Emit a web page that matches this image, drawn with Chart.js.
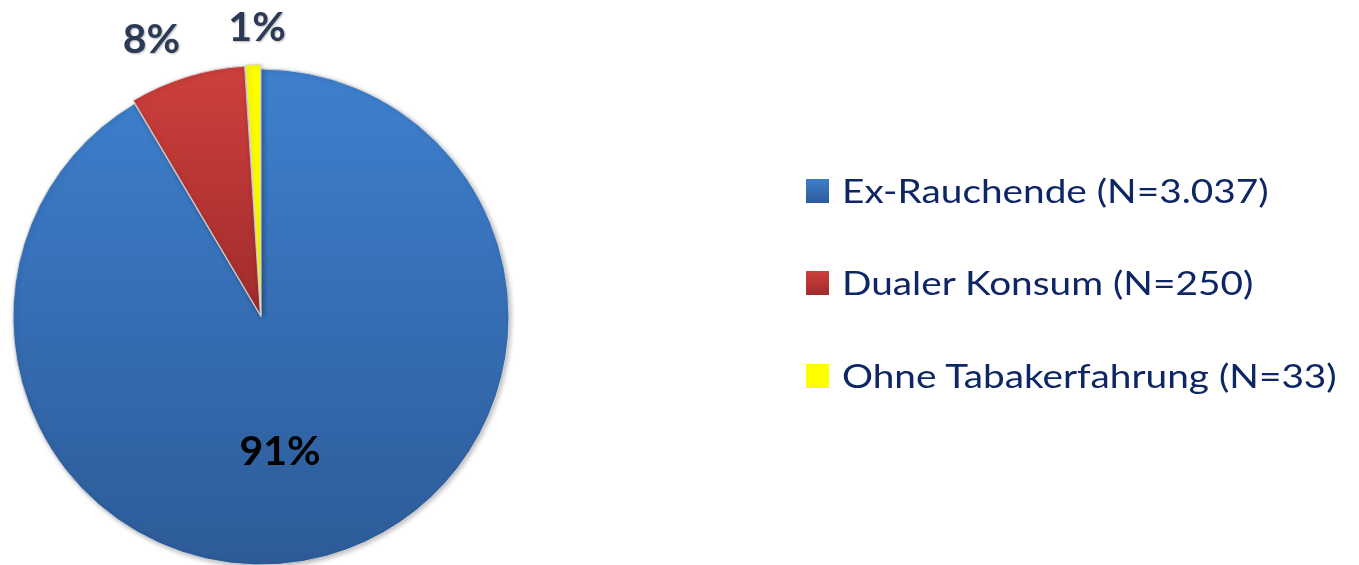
<!DOCTYPE html>
<html>
<head>
<meta charset="utf-8">
<script src="https://cdn.jsdelivr.net/npm/chart.js@4/dist/chart.umd.min.js"></script>
<style>
  html, body { margin: 0; padding: 0; background: #ffffff; }
  #wrap { position: relative; width: 1359px; height: 565px; overflow: hidden; }
  #c { position: absolute; left: 0; top: 0; }
  #legend { position: absolute; left: 806px; top: 0; font-family: Lato, "Open Sans", sans-serif; color: #0E2664; }
  .item { position: absolute; left: 0; white-space: nowrap; font-size: 33px; line-height: 33px; }
  .box { position: absolute; left: 0; top: 0; width: 23px; height: 24px; }
  .txt { position: absolute; left: 36px; top: -5px; transform: scaleX(1.175); transform-origin: 0 0; }
</style>
</head>
<body>
<div id="wrap">
  <canvas id="c" width="1359" height="565"></canvas>
  <div id="legend"></div>
</div>
<script>
// ---- data ----
const categories = ["Ex-Rauchende (N=3.037)", "Dualer Konsum (N=250)", "Ohne Tabakerfahrung (N=33)"];
const counts = [3037, 250, 33];
const sliceColorsTop = ["#3E80CE", "#CF403C", "#FFFF00"];
const sliceColorsBottom = ["#2D5B98", "#A02C2C", "#FFFF00"];

const total = counts.reduce((a, b) => a + b, 0);

function grad(ctx, i, y0, y1) {
  const g = ctx.createLinearGradient(0, y0, 0, y1);
  g.addColorStop(0, sliceColorsTop[i]);
  g.addColorStop(1, sliceColorsBottom[i]);
  return g;
}

const labelCfg = {
  dist: [0.55, 1.0, 1.0],     // fraction of radius
  pad: [0, 30, 30],
  nudge: [[-17, 16], [-25, 10], [5, 11]],
  color: ["#000000", "#2B3A57", "#2B3A57"],
  shadow: [false, true, true]
};

const shadowPlugin = {
  id: 'sliceShadow',
  beforeDatasetDraw(chart) {
    const c = chart.ctx;
    c.save();
    c.shadowColor = 'rgba(0,0,0,0.28)';
    c.shadowBlur = 5;
    c.shadowOffsetX = 1.5;
    c.shadowOffsetY = 1.5;
  },
  afterDatasetDraw(chart) {
    chart.ctx.restore();
  }
};

const labelPlugin = {
  id: 'pctLabels',
  afterDatasetsDraw(chart) {
    const c = chart.ctx;
    const meta = chart.getDatasetMeta(0);
    meta.data.forEach((arc, i) => {
      const p = arc.getProps(['x', 'y', 'startAngle', 'endAngle', 'outerRadius'], true);
      const off = chart.data.datasets[0].offset[i] || 0;
      const mid = (p.startAngle + p.endAngle) / 2;
      const dx = Math.cos(mid), dy = Math.sin(mid);
      const cx = p.x + dx * off, cy = p.y + dy * off;
      const d = p.outerRadius * labelCfg.dist[i] + labelCfg.pad[i];
      const x = cx + dx * d + labelCfg.nudge[i][0];
      const y = cy + dy * d + labelCfg.nudge[i][1];
      const pct = Math.round(counts[i] / total * 100) + '%';
      c.save();
      c.font = 'bold 41px Lato, "Open Sans", sans-serif';
      c.textAlign = 'center';
      c.textBaseline = 'alphabetic';
      if (labelCfg.shadow[i]) {
        c.shadowColor = 'rgba(0,0,0,0.3)';
        c.shadowBlur = 2;
        c.shadowOffsetX = 1;
        c.shadowOffsetY = 1;
      }
      c.fillStyle = labelCfg.color[i];
      c.fillText(pct, x, y);
      c.restore();
    });
  }
};

const chart = new Chart(document.getElementById('c'), {
  type: 'pie',
  data: {
    labels: categories,
    datasets: [{
      data: counts,
      offset: [0, 9, 9],
      borderColor: 'rgba(215,215,215,0.9)',
      borderWidth: 1,
      backgroundColor: (ctx) => {
        const area = ctx.chart.chartArea;
        const i = ctx.dataIndex;
        if (!area) return sliceColorsTop[i];
        const cy = (area.top + area.bottom) / 2;
        if (i === 0) return grad(ctx.chart.ctx, i, area.top, area.bottom);
        if (i === 1) return grad(ctx.chart.ctx, i, area.top - 8, cy);
        return sliceColorsTop[i];
      }
    }]
  },
  options: {
    responsive: false,
    animation: false,
    radius: 248,
    rotation: 0,
    layout: { padding: { left: 13, right: 850, top: 69, bottom: 0 } },
    plugins: {
      legend: { display: false },
      tooltip: { enabled: false }
    }
  },
  plugins: [shadowPlugin, labelPlugin]
});

// ---- legend (HTML) ----
const legendTops = [179, 271, 364];
const leg = document.getElementById('legend');
categories.forEach((name, i) => {
  const item = document.createElement('div');
  item.className = 'item';
  item.style.top = legendTops[i] + 'px';
  const box = document.createElement('div');
  box.className = 'box';
  box.style.background = 'linear-gradient(' + sliceColorsTop[i] + ',' + sliceColorsBottom[i] + ')';
  const t = document.createElement('div');
  t.className = 'txt';
  t.textContent = name;
  item.appendChild(box);
  item.appendChild(t);
  leg.appendChild(item);
});
</script>
</body>
</html>
